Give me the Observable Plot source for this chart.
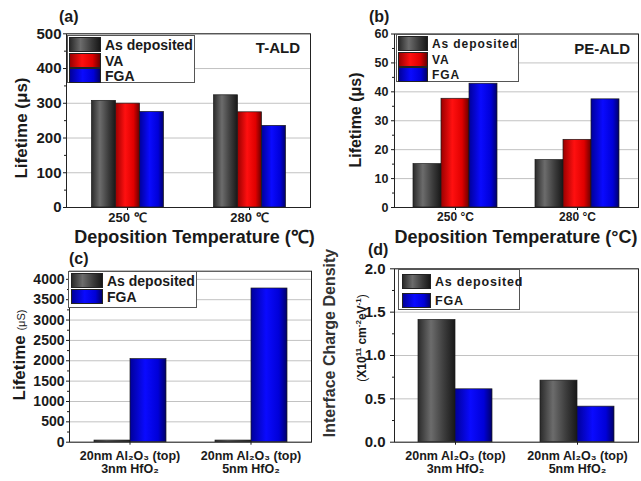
<!DOCTYPE html>
<html><head><meta charset="utf-8">
<script src="https://cdn.jsdelivr.net/npm/d3@7"></script>
<script src="https://cdn.jsdelivr.net/npm/@observablehq/plot@0.6"></script>
<style>
body{margin:0;background:#fff;}
#wrap{position:relative;width:641px;height:481px;overflow:hidden;font-family:"Liberation Sans",Arial,sans-serif;color:#1a1a1a;}
.abs{position:absolute;white-space:nowrap;line-height:1;font-weight:bold;}
.panel{position:absolute;}
.legend{position:absolute;background:#fff;border:1px solid #555;box-sizing:border-box;}
.sw{position:absolute;box-sizing:border-box;border:1px solid #222;}
.lt{position:absolute;font-weight:bold;white-space:nowrap;display:flex;align-items:center;}
</style></head>
<body><div id="wrap"></div>
<svg width="0" height="0" style="position:absolute">
 <defs>
  <linearGradient id="gGray" x1="0" x2="1" y1="0" y2="0">
   <stop offset="0" stop-color="#2a2a2a"/><stop offset="0.35" stop-color="#6c6c6c"/><stop offset="0.72" stop-color="#3a3a3a"/><stop offset="1" stop-color="#181818"/>
  </linearGradient>
  <linearGradient id="gRed" x1="0" x2="1" y1="0" y2="0">
   <stop offset="0" stop-color="#9a0000"/><stop offset="0.4" stop-color="#ff1010"/><stop offset="0.75" stop-color="#e00000"/><stop offset="1" stop-color="#6a0000"/>
  </linearGradient>
  <linearGradient id="gBlue" x1="0" x2="1" y1="0" y2="0">
   <stop offset="0" stop-color="#00009a"/><stop offset="0.42" stop-color="#0a0aff"/><stop offset="0.78" stop-color="#0000d8"/><stop offset="1" stop-color="#00006a"/>
  </linearGradient>
 </defs>
</svg>
<script>
// ---------- data ----------
const seriesAB = ["As deposited", "VA", "FGA"];
const tempLabelsA = ["250 ℃", "280 ℃"];
const tAldAsDep = [307, 323];
const tAldVA = [299, 274];
const tAldFGA = [275, 235];

const tempLabelsB = ["250 °C", "280 °C"];
const peAldAsDep = [15.0, 16.4];
const peAldVA = [37.6, 23.4];
const peAldFGA = [42.8, 37.4];

const seriesCD = ["As deposited", "FGA"];
const stackLabels = ["20nm Al₂O₃ (top)\n3nm HfO₂", "20nm Al₂O₃ (top)\n5nm HfO₂"];
const lifetimeAsDep = [40, 40];
const lifetimeFGA = [2040, 3775];
const ditAsDep = [1.41, 0.71];
const ditFGA = [0.61, 0.41];

const ticksA = [0, 100, 200, 300, 400, 500];
const minorA = [50, 150, 250, 350, 450];
const ticksB = [0, 10, 20, 30, 40, 50, 60];
const minorB = [5, 15, 25, 35, 45, 55];
const ticksC = [0, 500, 1000, 1500, 2000, 2500, 3000, 3500, 4000];
const minorC = [250, 750, 1250, 1750, 2250, 2750, 3250, 3750];
const ticksD = [0, 0.5, 1.0, 1.5, 2.0];
const minorD = [0.25, 0.75, 1.25, 1.75];

const fillsABC = ["url(#gGray)", "url(#gRed)", "url(#gBlue)"];
const fillsCD = ["url(#gGray)", "url(#gBlue)"];
const swatchCss = {
  "url(#gGray)": "linear-gradient(to right,#2a2a2a,#6c6c6c 35%,#3a3a3a 72%,#181818)",
  "url(#gRed)": "linear-gradient(to right,#9a0000,#ff1010 40%,#e00000 75%,#6a0000)",
  "url(#gBlue)": "linear-gradient(to right,#00009a,#0a0aff 42%,#0000d8 78%,#00006a)"
};

const wrap = document.getElementById("wrap");

function makePanel(o) {
  const rows = [];
  o.groups.forEach((g, gi) => o.series.forEach((s, si) => rows.push({group: g, series: s, value: o.values[si][gi]})));
  const lineCount = Math.max(...o.groups.map(g => g.split("\n").length));
  const fxAxes = [];
  for (let li = 0; li < lineCount; li++) {
    fxAxes.push(Plot.axisFx({
      anchor: "bottom", tickSize: li === 0 ? 3 : 0, tickPadding: li === 0 ? o.xPad : o.xPad + 3 + li * o.lineGap,
      fontSize: o.xFont, label: null, tickFormat: d => d.split("\n")[li] || ""
    }));
  }
  const marks = [
    Plot.ruleY(o.ticks, {stroke: "#c2c2c2"}),
    ...o.series.map((s, si) => Plot.barY(rows.filter(r => r.series === s), {
      fx: "group", x: "series", y: "value", fill: o.fills[si], stroke: "#1a1a1a", strokeWidth: 0.7
    })),
    Plot.axisY(o.minor, {tickSize: 2, tickFormat: () => "", label: null}),
    Plot.axisY(o.ticks, {tickSize: o.ySize, tickPadding: o.yPad, fontSize: o.yFont, label: null, tickFormat: o.yFormat}),
    ...fxAxes,
    Plot.frame({facet: "super", stroke: "#222"})
  ];
  const svg = Plot.plot({
    width: o.width, height: o.height,
    marginLeft: o.m[0], marginRight: o.m[1], marginTop: o.m[2], marginBottom: o.m[3],
    x: {domain: o.series, paddingInner: 0, paddingOuter: o.pad, axis: null},
    fx: {domain: o.groups, padding: 0},
    y: {domain: o.yDomain},
    style: {fontFamily: "Liberation Sans, Arial, sans-serif", fontWeight: "bold", color: "#1a1a1a", background: "transparent", overflow: "visible"},
    marks
  });
  const div = document.createElement("div");
  div.className = "panel";
  div.style.left = o.left + "px";
  div.style.top = o.top + "px";
  div.appendChild(svg);
  wrap.appendChild(div);
}

makePanel({left: 0, top: 0, width: 320, height: 250, m: [65.5, 9, 33.3, 43],
  groups: tempLabelsA, series: seriesAB, values: [tAldAsDep, tAldVA, tAldFGA], fills: fillsABC,
  yDomain: [0, 500], ticks: ticksA, minor: minorA, ySize: 3, yPad: 2, yFont: 15, xPad: 2.5, xFont: 13, pad: 1.0,
  yFormat: d => String(d)});

makePanel({left: 320, top: 0, width: 321, height: 250, m: [73, 3, 33.5, 43],
  groups: tempLabelsB, series: seriesAB, values: [peAldAsDep, peAldVA, peAldFGA], fills: fillsABC,
  yDomain: [0, 60], ticks: ticksB, minor: minorB, ySize: 3, yPad: 3, yFont: 12.5, xPad: 1.5, xFont: 12, pad: 0.65,
  yFormat: d => String(d)});

makePanel({left: 0, top: 240, width: 320, height: 241, m: [68, 8.3, 30.7, 39.3],
  groups: stackLabels, series: seriesCD, values: [lifetimeAsDep, lifetimeFGA], fills: fillsCD,
  yDomain: [0, 4200], ticks: ticksC, minor: minorC, ySize: 3, yPad: 2, yFont: 14, xPad: 6, xFont: 12.5, lineGap: 13, pad: 0.65,
  yFormat: d => String(d)});

makePanel({left: 320, top: 240, width: 321, height: 241, m: [73, 3, 28.3, 39.3],
  groups: stackLabels, series: seriesCD, values: [ditAsDep, ditFGA], fills: fillsCD,
  yDomain: [0, 2], ticks: ticksD, minor: minorD, ySize: 4, yPad: 5, yFont: 15, xPad: 6, xFont: 12.5, lineGap: 13, pad: 0.63,
  yFormat: d3.format(".1f")});

// ---------- text overlays ----------
function text(html, x, baseline, fs, extra = {}) {
  const d = document.createElement("div");
  d.className = "abs";
  d.innerHTML = html;
  d.style.fontSize = fs + "px";
  d.style.left = x + "px";
  d.style.top = (baseline - 0.85 * fs) + "px";
  if (extra.anchor === "middle") d.style.transform = "translateX(-50%)";
  if (extra.anchor === "end") d.style.transform = "translateX(-100%)";
  if (extra.weight) d.style.fontWeight = extra.weight;
  if (extra.ls) d.style.letterSpacing = extra.ls + "px";
  wrap.appendChild(d);
  return d;
}
function vtext(html, cx, cy, fs, extra = {}) {
  const d = document.createElement("div");
  d.className = "abs";
  d.innerHTML = html;
  d.style.fontSize = fs + "px";
  d.style.left = cx + "px";
  d.style.top = cy + "px";
  d.style.transform = "translate(-50%,-50%) rotate(-90deg)";
  if (extra.weight) d.style.fontWeight = extra.weight;
  if (extra.color) d.style.color = extra.color;
  wrap.appendChild(d);
  return d;
}

text("(a)", 59, 23, 16);
text("(b)", 369, 23, 16);
text("(c)", 69, 265, 16);
text("(d)", 368, 256, 16);

text("T-ALD", 300, 53, 15, {anchor: "end"});
text("PE-ALD", 630, 54, 15, {anchor: "end"});

text("Deposition Temperature (℃)", 194.5, 243, 18, {anchor: "middle"});
text("Deposition Temperature (°C)", 516, 243, 18, {anchor: "middle"});

vtext("Lifetime (μs)", 21, 128, 17);
vtext("Lifetime (μs)", 356, 120, 16);
vtext("Lifetime <span style='font-size:11px;font-weight:normal'>(μS)</span>", 19, 355, 17);
vtext("Interface Charge Density", 330, 343, 16, {color: "#333"});
vtext("<span style='font-weight:normal'>(</span>X10<sup style='font-size:8px'>11</sup> cm<sup style='font-size:8px'>-2</sup>eV<sup style='font-size:8px'>-1</sup><span style='font-weight:normal'>)</span>", 361, 338, 12);

// ---------- legends ----------
function legend(o) {
  const box = document.createElement("div");
  box.className = "legend";
  Object.assign(box.style, {left: o.x + "px", top: o.y + "px", width: o.w + "px", height: o.h + "px"});
  o.series.forEach((s, i) => {
    const sw = document.createElement("div");
    sw.className = "sw";
    Object.assign(sw.style, {left: o.sx + "px", top: o.rows[i] + "px", width: o.sw + "px", height: o.rh + "px", background: swatchCss[o.fills[i]]});
    box.appendChild(sw);
    const t = document.createElement("div");
    t.className = "lt";
    t.textContent = s;
    Object.assign(t.style, {left: o.tx + "px", top: o.rows[i] + "px", height: o.rh + "px", fontSize: o.fs + "px", letterSpacing: (o.ls || 0) + "px"});
    box.appendChild(t);
  });
  wrap.appendChild(box);
}
legend({x: 67, y: 35, w: 128, h: 48, series: seriesAB, fills: fillsABC, sx: 1, sw: 32, rows: [1, 17, 32], rh: 15, tx: 37, fs: 14});
legend({x: 396, y: 34, w: 123, h: 48, series: seriesAB, fills: fillsABC, sx: 1, sw: 30, rows: [1, 17, 32], rh: 15, tx: 35, fs: 12, ls: 0.9});
legend({x: 68, y: 271, w: 129, h: 37, series: seriesCD, fills: fillsCD, sx: 2, sw: 32, rows: [1, 17], rh: 15, tx: 38, fs: 14});
legend({x: 398, y: 269, w: 122, h: 41, series: seriesCD, fills: fillsCD, sx: 3, sw: 29, rows: [4, 23], rh: 15, tx: 36, fs: 12.5, ls: 0.8});
</script>
</body></html>
